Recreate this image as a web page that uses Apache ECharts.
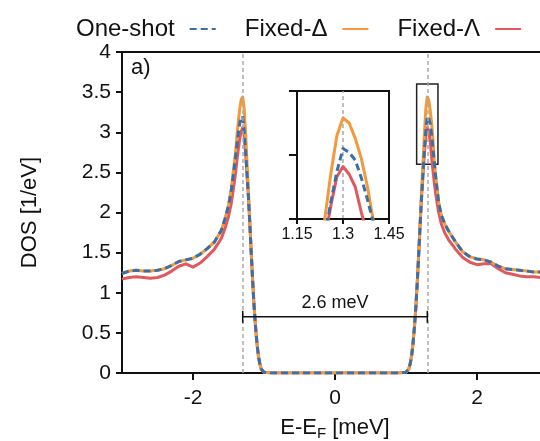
<!DOCTYPE html>
<html>
<head>
<meta charset="utf-8">
<script src="https://cdn.jsdelivr.net/npm/echarts@6/dist/echarts.min.js"></script>
<style>
html,body{margin:0;padding:0;background:#fff;}
#chart{width:540px;height:441px;}
</style>
</head>
<body>
<div id="chart"></div>
<script>
// ---------------- data ----------------
const energy = [
  -3.0,-2.9,-2.8,-2.7,-2.6,-2.5,-2.4,-2.3,-2.2,-2.1,-2.0,-1.9,-1.8,-1.7,-1.6,
  -1.55,-1.5,-1.46,-1.42,
  -1.40,-1.38,-1.36,-1.34,-1.32,-1.30,-1.28,-1.26,-1.24,-1.22,-1.20,-1.18,-1.16,-1.14,-1.12,-1.10,-1.08,-1.06,-1.04,
  -1.0,-0.9,-0.5,0,0.5,0.9,1.0,
  1.04,1.06,1.08,1.10,1.12,1.14,1.16,1.18,1.20,1.22,1.24,1.26,1.28,1.30,1.32,1.34,1.36,1.38,1.40,
  1.42,1.46,1.50,1.55,
  1.6,1.7,1.8,1.9,2.0,2.1,2.2,2.3,2.4,2.5,2.6,2.7,2.8,2.9,3.0
];
const oneShot = [
  1.24,1.27,1.28,1.27,1.27,1.28,1.30,1.34,1.39,1.41,1.43,1.48,1.55,1.63,1.78,
  1.92,2.08,2.28,2.55,
  2.70,2.86,3.00,3.12,3.17,3.20,3.02,2.78,2.50,2.20,1.86,1.50,1.15,0.84,0.58,0.38,0.22,0.12,0.05,
  0.01,0,0,0,0,0,0.01,
  0.05,0.12,0.22,0.38,0.58,0.84,1.15,1.50,1.86,2.20,2.50,2.78,3.02,3.20,3.17,3.11,2.97,2.80,2.61,
  2.43,2.12,1.96,1.85,
  1.77,1.63,1.51,1.45,1.42,1.41,1.38,1.33,1.30,1.29,1.28,1.27,1.26,1.26,1.25
];
const fixedDelta = [
  1.24,1.27,1.28,1.27,1.27,1.28,1.30,1.34,1.39,1.41,1.43,1.48,1.55,1.63,1.78,
  1.92,2.09,2.30,2.60,
  2.76,2.96,3.15,3.30,3.41,3.44,3.30,3.00,2.64,2.28,1.90,1.52,1.16,0.84,0.58,0.38,0.22,0.12,0.05,
  0.01,0,0,0,0,0,0.01,
  0.05,0.12,0.22,0.38,0.58,0.84,1.16,1.52,1.90,2.28,2.64,3.00,3.30,3.44,3.40,3.28,3.12,2.90,2.62,
  2.44,2.13,1.96,1.85,
  1.77,1.63,1.51,1.45,1.42,1.41,1.38,1.33,1.30,1.29,1.28,1.27,1.26,1.26,1.25
];
const fixedLambda = [
  1.17,1.19,1.20,1.19,1.18,1.19,1.22,1.27,1.33,1.36,1.32,1.37,1.45,1.54,1.68,
  1.80,1.95,2.12,2.36,
  2.50,2.66,2.80,2.93,3.01,3.06,2.98,2.75,2.48,2.20,1.86,1.50,1.15,0.84,0.58,0.38,0.22,0.12,0.05,
  0.01,0,0,0,0,0,0.01,
  0.05,0.12,0.22,0.38,0.58,0.84,1.15,1.50,1.86,2.20,2.48,2.75,2.98,3.06,3.00,2.90,2.70,2.52,2.36,
  2.22,2.00,1.85,1.74,
  1.66,1.54,1.44,1.38,1.35,1.36,1.36,1.30,1.25,1.23,1.21,1.20,1.20,1.19,1.18
];
const seriesNames = ['One-shot', 'Fixed-Δ', 'Fixed-Λ'];
const xRange = [-3, 3];
const xTicks = [-2, 0, 2];
const yRange = [0, 4];
const yStep = 0.5;
const peakLines = [-1.3, 1.3];
const gapEdges = [-1.3, 1.3];
const gapBarLevel = 0.7;
const gapLabel = '2.6 meV';
const zoomBoxX = [1.15, 1.45];
const zoomBoxY = [2.6, 3.6];
const insetXRange = [1.15, 1.45];
const insetXStep = 0.15;
const insetYRange = [2.65, 3.65];
const insetYStep = 0.5;
const insetPeakLine = [1.3];
const panelLabel = 'a)';

// ---------------- chart ----------------
const FONT = '"Liberation Sans", Arial, Helvetica, sans-serif';
const colors = { blue: '#3a6fa8', orange: '#f2993c', red: '#e1585d' };
const pairs = arr => energy.map((e, i) => [e, arr[i]]);
const gridLine = { color: '#111', width: 2 };

function curve(name, arr, color, dashed, axisIdx, extra) {
  return Object.assign({
    name: name, type: 'line', data: pairs(arr),
    xAxisIndex: axisIdx, yAxisIndex: axisIdx,
    symbol: 'none', clip: true, animation: false,
    lineStyle: { color: color, width: 3, type: dashed ? [7, 4] : 'solid', join: 'round', cap: 'butt' },
    itemStyle: { color: color },
    z: dashed ? 4 : 3
  }, extra || {});
}

const chart = echarts.init(document.getElementById('chart'), null, { renderer: 'canvas' });
const option = {
  animation: false,
  backgroundColor: '#fff',
  textStyle: { fontFamily: FONT, color: '#111' },
  legend: {
    data: seriesNames,
    left: 71, top: 12, width: 800,
    align: 'right',
    itemWidth: 26, itemHeight: 14, itemGap: 28,
    itemStyle: { opacity: 0 },
    textStyle: { fontSize: 24, color: '#111', fontFamily: FONT, padding: [0, 10, 0, 0] }
  },
  grid: [
    { left: 122, top: 52, width: 426, bottom: 68, outerBoundsMode: 'none', containLabel: false,
      show: true, borderColor: '#111', borderWidth: 2, backgroundColor: 'transparent' },
    { left: 297, top: 91, width: 92, height: 128, outerBoundsMode: 'none', containLabel: false,
      show: true, borderColor: '#111', borderWidth: 2, backgroundColor: '#fff', z: 5 }
  ],
  xAxis: [
    {
      type: 'value', gridIndex: 0, min: xRange[0], max: xRange[1],
      name: 'E-E{sub|F} [meV]', nameLocation: 'middle', nameGap: 42,
      nameTextStyle: { fontSize: 22, color: '#111', fontFamily: FONT, lineHeight: 26,
        rich: { sub: { fontSize: 15, fontFamily: FONT, color: '#111', verticalAlign: 'bottom', lineHeight: 26, padding: [12, 0, 0, 0] } } },
      axisLine: { show: true, onZero: false, lineStyle: gridLine },
      axisTick: { show: true, length: 7, lineStyle: gridLine, customValues: xTicks },
      axisLabel: { fontSize: 21, color: '#111', margin: 15, customValues: xTicks },
      splitLine: { show: false }
    },
    {
      type: 'value', gridIndex: 1, min: insetXRange[0], max: insetXRange[1], interval: insetXStep,
      axisLine: { show: true, onZero: false, lineStyle: gridLine },
      axisTick: { show: true, length: 5, lineStyle: gridLine },
      axisLabel: { fontSize: 16, color: '#111', margin: 8, formatter: v => String(+v.toFixed(2)) },
      splitLine: { show: false }, z: 6
    }
  ],
  yAxis: [
    {
      type: 'value', gridIndex: 0, min: yRange[0], max: yRange[1], interval: yStep,
      name: 'DOS [1/eV]', nameLocation: 'middle', nameGap: 81, nameRotate: 90,
      nameTextStyle: { fontSize: 22, color: '#111', fontFamily: FONT },
      axisLine: { show: true, onZero: false, lineStyle: gridLine },
      axisTick: { show: true, length: 6, lineStyle: gridLine },
      axisLabel: { fontSize: 21, color: '#111', margin: 11 },
      splitLine: { show: false }
    },
    {
      type: 'value', gridIndex: 1, min: insetYRange[0], max: insetYRange[1], interval: insetYStep,
      axisLine: { show: true, onZero: false, lineStyle: gridLine },
      axisTick: { show: true, length: 8, lineStyle: gridLine },
      axisLabel: { show: false },
      splitLine: { show: false }, z: 6
    }
  ],
  graphic: [
    { type: 'text', left: 131, top: 57, style: { text: panelLabel, font: '22px ' + FONT, fill: '#111' } }
  ],
  series: [
    curve(seriesNames[2], fixedLambda, colors.red, false, 0, {
      markLine: {
        silent: true, symbol: 'none', animation: false,
        lineStyle: { color: '#aaa', type: [4, 3], width: 1.5 },
        label: { show: false },
        data: peakLines.map(v => ({ xAxis: v }))
      },
      markArea: {
        silent: true,
        itemStyle: { color: 'rgba(0,0,0,0)', borderColor: '#222', borderWidth: 1.5 },
        data: [[{ coord: [zoomBoxX[0], zoomBoxY[0]] }, { coord: [zoomBoxX[1], zoomBoxY[1]] }]]
      }
    }),
    curve(seriesNames[1], fixedDelta, colors.orange, false, 0),
    curve(seriesNames[0], oneShot, colors.blue, true, 0),
    {
      name: 'gap', type: 'line', xAxisIndex: 0, yAxisIndex: 0,
      data: gapEdges.map(x => [x, gapBarLevel]),
      symbol: 'rect', symbolSize: [1.5, 12], showSymbol: true,
      lineStyle: { color: '#111', width: 1.5 }, itemStyle: { color: '#111' },
      z: 6, animation: false,
      markLine: {
        silent: true, symbol: 'none',
        lineStyle: { color: 'rgba(0,0,0,0)', width: 1 },
        label: { show: true, position: 'middle', formatter: gapLabel, fontSize: 18, color: '#111', fontFamily: FONT, distance: 5 },
        data: [[{ coord: [gapEdges[0], gapBarLevel] }, { coord: [gapEdges[1], gapBarLevel] }]]
      }
    },
    curve(seriesNames[2], fixedLambda, colors.red, false, 1, {
      z: 7,
      markLine: {
        silent: true, symbol: 'none',
        lineStyle: { color: '#aaa', type: [4, 3], width: 1.5 },
        label: { show: false },
        data: insetPeakLine.map(v => ({ xAxis: v }))
      }
    }),
    curve(seriesNames[1], fixedDelta, colors.orange, false, 1, { z: 7 }),
    curve(seriesNames[0], oneShot, colors.blue, true, 1, { z: 8 })
  ]
};
chart.setOption(option);
</script>
</body>
</html>
